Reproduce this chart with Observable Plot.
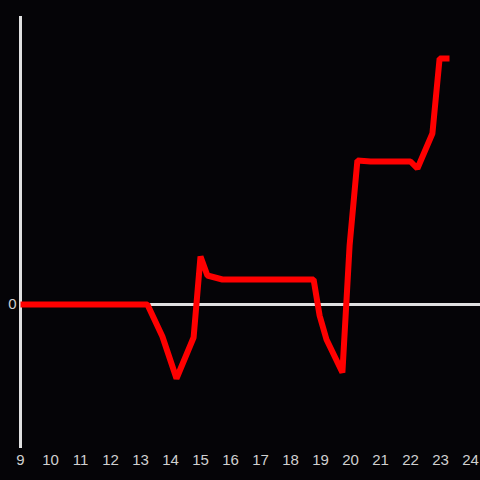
<!DOCTYPE html>
<html>
<head>
<meta charset="utf-8">
<script src="https://cdn.jsdelivr.net/npm/d3@7"></script>
<script src="https://cdn.jsdelivr.net/npm/@observablehq/plot@0.6"></script>
<style>
  html, body { margin: 0; padding: 0; background: #050407; }
  #chart { width: 480px; height: 480px; }
</style>
</head>
<body>
<div id="chart"></div>
<script>
const hours = [9, 13.23, 13.73, 14.2, 14.77, 15.0, 15.23, 15.73, 18.77, 18.97, 19.2, 19.73, 19.97, 20.23, 20.67, 22.0, 22.23, 22.73, 22.97, 23.3];
const values = [0, 0, -32, -74, -33, 48, 29, 25, 25, -11, -35, -68, 59, 144, 143, 143, 136, 171, 246, 246];
const xTicks = [9, 10, 11, 12, 13, 14, 15, 16, 17, 18, 19, 20, 21, 22, 23, 24];
const yTicks = [0];

const data = hours.map((h, i) => ({h, v: values[i]}));

const chart = Plot.plot({
  width: 480,
  height: 480,
  marginTop: 16,
  marginBottom: 32,
  marginLeft: 20,
  marginRight: 0,
  style: {background: "#050407", color: "#d0d0d0", fontFamily: "Liberation Sans, Arial, sans-serif", fontSize: "15px"},
  x: {domain: [9, 24 + 1/3], label: null},
  y: {domain: [-144, 288], label: null},
  marks: [
    Plot.axisX({ticks: xTicks, tickFormat: d => String(d), tickSize: 0, tickPadding: 6, fontSize: 15, fill: "#d0d0d0", label: null}),
    Plot.axisY({ticks: yTicks, tickFormat: d => String(d), tickSize: 0, tickPadding: 4, fontSize: 15, fill: "#d0d0d0", label: null}),
    Plot.ruleY(yTicks, {stroke: "#e0e0e0", strokeWidth: 3}),
    Plot.ruleX([9], {stroke: "#e0e0e0", strokeWidth: 3}),
    Plot.line(data, {x: "h", y: "v", stroke: "#ff0000", strokeWidth: 6, strokeLinejoin: "miter", strokeLinecap: "butt"})
  ]
});
document.getElementById("chart").appendChild(chart);
</script>
</body>
</html>
